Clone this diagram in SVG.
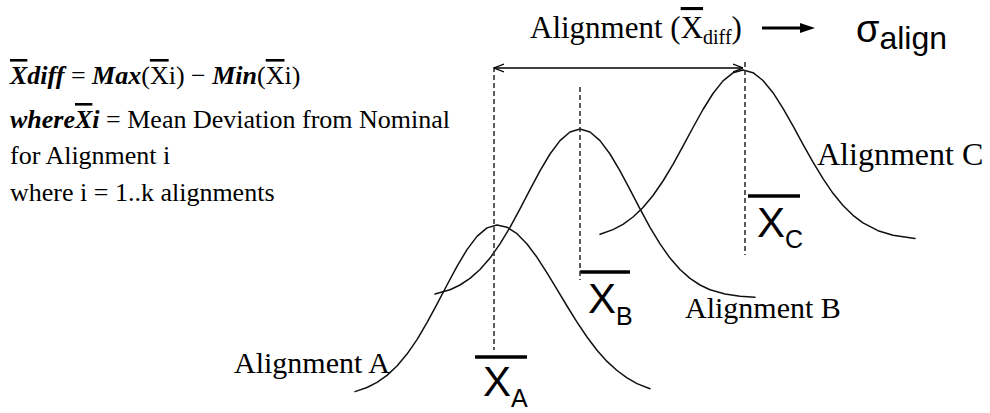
<svg xmlns="http://www.w3.org/2000/svg" width="990" height="413" viewBox="0 0 990 413">
<style>
.serif{font-family:"Liberation Serif","Times New Roman",serif;fill:#000}
.sans{font-family:"Liberation Sans",Arial,sans-serif;fill:#000}
.curve{fill:none;stroke:#111;stroke-width:1.5;stroke-linejoin:round;stroke-linecap:round}
.dash{stroke:#333;stroke-width:1.6;stroke-dasharray:5 3;fill:none}
.bar{stroke:#000;stroke-width:3.5}
.bi{font-weight:bold;font-style:italic}
.ol{text-decoration:overline}
</style>
<defs>
<marker id="open" viewBox="0 0 10 10" refX="10" refY="5" markerWidth="10" markerHeight="10" orient="auto-start-reverse" markerUnits="userSpaceOnUse">
<path d="M0,1 L10,5 L0,9" fill="none" stroke="#000" stroke-width="1.3"/>
</marker>
</defs>
<rect width="990" height="413" fill="#fff"/>

<g id="title">
<text class="serif" x="530" y="38" font-size="31">Alignment (<tspan class="ol">X</tspan><tspan font-size="20" dy="6">diff</tspan><tspan dy="-6">)</tspan></text>
<path d="M762,28 H802" stroke="#000" stroke-width="3"/>
<path d="M800,23 L815,28 L800,33 Z" fill="#000"/>
<text class="sans" x="856" y="42" font-size="38">σ<tspan font-size="32" dy="7">align</tspan></text>
</g>

<g id="formula">
<text class="serif" x="10" y="84" font-size="26"><tspan class="bi ol">X</tspan><tspan class="bi">diff</tspan> = <tspan class="bi">Max</tspan>(<tspan class="ol">X</tspan>i) − <tspan class="bi">Min</tspan>(<tspan class="ol">X</tspan>i)</text>
<text class="serif" x="10" y="128" font-size="26"><tspan class="bi">where</tspan><tspan class="bi ol">X</tspan><tspan class="bi">i</tspan> = Mean Deviation from Nominal</text>
<text class="serif" x="10" y="164" font-size="26">for Alignment i</text>
<text class="serif" x="10" y="201" font-size="26">where i = 1..k alignments</text>
</g>

<g id="curve-a">
<polyline class="curve" points="355,391.6 367,387.5 377,382.4 387,375.4 397,366.0 407,354.1 417,339.6 427,322.7 437,304.2 447,285.0 457,266.3 467,249.6 477,236.4 487,227.9 497,225 507,227.2 517,233.7 527,244.0 537,257.3 547,272.8 557,289.3 567,306.0 577,322.2 587,337.0 597,350.2 607,361.4 617,370.5 627,377.9 637,383.6 650,388.8"/>
<text class="serif" x="234" y="373" font-size="30">Alignment A</text>
<line class="bar" x1="475" y1="357" x2="527" y2="357"/>
<text class="sans" x="483" y="396" font-size="42">X<tspan font-size="25" dy="11">A</tspan></text>
</g>

<g id="curve-b">
<polyline class="curve" points="435,294.0 450,289.7 460,285.0 470,278.4 480,269.5 490,258.1 500,243.9 510,227.4 520,208.9 530,189.7 540,170.9 550,154.0 560,140.6 570,132.0 580,129 590,132.0 600,140.6 610,154.0 620,170.9 630,189.7 640,208.9 650,227.4 660,243.9 670,258.1 680,269.5 690,278.4 700,285.0 710,289.7 725,294.0 740,296.2 755,297.3"/>
<text class="serif" x="685" y="318" font-size="30">Alignment B</text>
<line class="bar" x1="580" y1="272" x2="630" y2="272"/>
<text class="sans" x="588" y="313" font-size="42">X<tspan font-size="25" dy="12">B</tspan></text>
</g>

<g id="curve-c">
<polyline class="curve" points="600,234.2 613,229.6 623,224.3 633,217.0 643,207.5 653,195.5 663,181.0 673,164.4 683,146.2 693,127.5 703,109.5 713,93.5 723,80.9 733,72.8 743,70 753,72.7 763,80.5 773,92.7 783,108.3 793,125.9 803,144.3 813,162.1 823,178.7 833,193.3 843,205.5 853,215.3 863,222.9 878,230.7 893,235.3 915,238.5"/>
<text class="serif" x="817" y="165" font-size="32">Alignment C</text>
<line class="bar" x1="748" y1="196" x2="800" y2="196"/>
<text class="sans" x="757" y="237" font-size="42">X<tspan font-size="25" dy="11">C</tspan></text>
</g>

<g id="connectors">
<line class="dash" x1="494" y1="67" x2="494" y2="350"/>
<line class="dash" x1="580" y1="87" x2="580" y2="280"/>
<line class="dash" x1="745" y1="62" x2="745" y2="255"/>
<line x1="494" y1="68" x2="743" y2="68" stroke="#000" stroke-width="1.5" marker-start="url(#open)" marker-end="url(#open)"/>
</g>
</svg>
